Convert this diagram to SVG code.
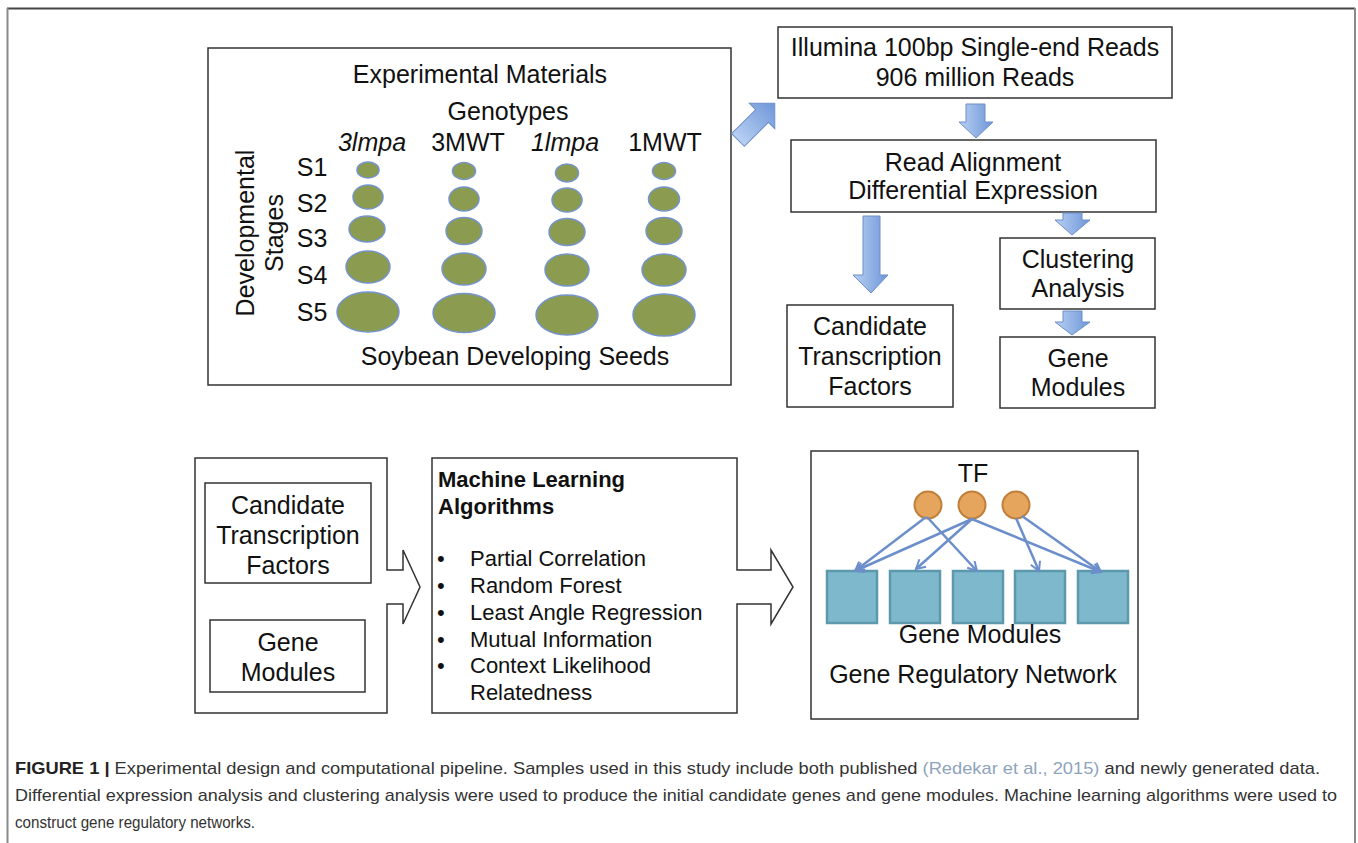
<svg xmlns="http://www.w3.org/2000/svg" width="1358" height="843" viewBox="0 0 1358 843">
<style>
text{font-family:"Liberation Sans",Arial,Helvetica,sans-serif;fill:#111;}
.t{font-size:25px;text-anchor:middle;}
.m{font-size:22px;}
.b{font-weight:bold;}
.box{fill:#fff;stroke:#333;stroke-width:1.5;}
.seed{fill:#8b9b50;stroke:#7494cb;stroke-width:1.5;}
.blk{fill:url(#bg);stroke:#6d8fc9;stroke-width:1;}
.tf{fill:#e6a55c;stroke:#bf7f3a;stroke-width:2;}
.gm{fill:#7db8cc;stroke:#5e98ac;stroke-width:2.5;}
.edge{stroke:#6c8fcb;stroke-width:2.5;fill:none;marker-end:url(#ah);}
.cap{font-size:17px;fill:#333;}
</style>
<defs>
<linearGradient id="bg" x1="0" y1="0" x2="1" y2="0">
<stop offset="0" stop-color="#b8d0f3"/>
<stop offset="1" stop-color="#6e96d8"/>
</linearGradient>
<marker id="ah" viewBox="0 0 12 12" refX="10" refY="6" markerWidth="12" markerHeight="12" markerUnits="userSpaceOnUse" orient="auto">
<path d="M1,1 L10,6 L1,11" fill="none" stroke="#6c8fcb" stroke-width="2"/>
</marker>
</defs>
<rect width="1358" height="843" fill="#fff"/>
<g id="frame">
<path d="M7,8.5 H1355" stroke="#444" stroke-width="2"/>
<path d="M7.5,8 V843 M1355,8 V843" stroke="#8a8a8a" stroke-width="2" fill="none"/>
</g>

<g id="materials">
<rect class="box" x="208" y="48" width="523" height="337"/>
<text class="t" x="480" y="83">Experimental Materials</text>
<text class="t" x="508" y="120">Genotypes</text>
<text class="t" x="372" y="151" font-style="italic">3lmpa</text>
<text class="t" x="468" y="151">3MWT</text>
<text class="t" x="565" y="151" font-style="italic">1lmpa</text>
<text class="t" x="665" y="151">1MWT</text>
<text class="t" x="312" y="176">S1</text>
<text class="t" x="312" y="212">S2</text>
<text class="t" x="312" y="247">S3</text>
<text class="t" x="312" y="284">S4</text>
<text class="t" x="312" y="321">S5</text>
<text class="t" transform="translate(254,233) rotate(-90)">Developmental</text>
<text class="t" transform="translate(283,233) rotate(-90)">Stages</text>
<ellipse class="seed" cx="368" cy="170" rx="11" ry="8"/>
<ellipse class="seed" cx="368" cy="197" rx="15" ry="12"/>
<ellipse class="seed" cx="367" cy="229" rx="18" ry="13"/>
<ellipse class="seed" cx="368" cy="267" rx="22" ry="16"/>
<ellipse class="seed" cx="368" cy="312" rx="31" ry="20"/>
<ellipse class="seed" cx="464" cy="171" rx="11.5" ry="8.5"/>
<ellipse class="seed" cx="464" cy="199" rx="15" ry="12"/>
<ellipse class="seed" cx="464" cy="231" rx="18" ry="13.5"/>
<ellipse class="seed" cx="464" cy="269" rx="22" ry="16"/>
<ellipse class="seed" cx="464" cy="313" rx="31" ry="19.5"/>
<ellipse class="seed" cx="567" cy="173" rx="11.5" ry="9"/>
<ellipse class="seed" cx="567" cy="200" rx="15" ry="12"/>
<ellipse class="seed" cx="567" cy="232" rx="18" ry="13.5"/>
<ellipse class="seed" cx="567" cy="270" rx="22" ry="16"/>
<ellipse class="seed" cx="567" cy="315" rx="31" ry="20"/>
<ellipse class="seed" cx="664" cy="171" rx="11.5" ry="8.5"/>
<ellipse class="seed" cx="664" cy="199" rx="15.5" ry="12"/>
<ellipse class="seed" cx="664" cy="231" rx="18" ry="13.5"/>
<ellipse class="seed" cx="664" cy="270" rx="22" ry="16"/>
<ellipse class="seed" cx="664" cy="315" rx="31" ry="21"/>
<text class="t" x="515" y="365">Soybean Developing Seeds</text>
</g>

<g id="illumina">
<rect class="box" x="778" y="27" width="394" height="71"/>
<text class="t" x="975" y="56">Illumina 100bp Single-end Reads</text>
<text class="t" x="975" y="86">906 million Reads</text>
</g>
<g id="alignment">
<rect class="box" x="791" y="140" width="365" height="72"/>
<text class="t" x="973" y="171">Read Alignment</text>
<text class="t" x="973" y="199">Differential Expression</text>
</g>
<g id="clustering">
<rect class="box" x="1000" y="238" width="155" height="71"/>
<text class="t" x="1078" y="268">Clustering</text>
<text class="t" x="1078" y="297">Analysis</text>
</g>
<g id="modules-top">
<rect class="box" x="1000" y="337" width="155" height="71"/>
<text class="t" x="1078" y="367">Gene</text>
<text class="t" x="1078" y="396">Modules</text>
</g>
<g id="tf-top">
<rect class="box" x="787" y="305" width="166" height="102"/>
<text class="t" x="870" y="335">Candidate</text>
<text class="t" x="870" y="365">Transcription</text>
<text class="t" x="870" y="395">Factors</text>
</g>

<g id="inputs">
<path class="box" d="M195,458 H387 V570 H403 V550 L420,587 L403,624 V604 H387 V713 H195 Z"/>
<rect class="box" x="205" y="483" width="166" height="100"/>
<text class="t" x="288" y="514">Candidate</text>
<text class="t" x="288" y="544">Transcription</text>
<text class="t" x="288" y="574">Factors</text>
<rect class="box" x="210" y="620" width="155" height="72"/>
<text class="t" x="288" y="651">Gene</text>
<text class="t" x="288" y="681">Modules</text>
</g>

<g id="algorithms">
<path class="box" d="M432,458 H737 V570 H771 V550 L793,587 L771,624 V604 H737 V713 H432 Z"/>
<text class="m b" x="438" y="487">Machine Learning</text>
<text class="m b" x="438" y="514">Algorithms</text>
<text class="m" x="437" y="566">•</text>
<text class="m" x="470" y="566">Partial Correlation</text>
<text class="m" x="437" y="593">•</text>
<text class="m" x="470" y="593">Random Forest</text>
<text class="m" x="437" y="620">•</text>
<text class="m" x="470" y="620">Least Angle Regression</text>
<text class="m" x="437" y="647">•</text>
<text class="m" x="470" y="647">Mutual Information</text>
<text class="m" x="437" y="673">•</text>
<text class="m" x="470" y="673">Context Likelihood</text>
<text class="m" x="470" y="700">Relatedness</text>
</g>

<g id="network">
<rect class="box" x="811" y="451" width="327" height="268"/>
<text class="t" x="973" y="482">TF</text>
<circle class="tf" cx="928" cy="505" r="13.5"/>
<circle class="tf" cx="972" cy="505" r="13.5"/>
<circle class="tf" cx="1016" cy="505" r="13.5"/>
<rect class="gm" x="827" y="571" width="50" height="52"/>
<rect class="gm" x="890" y="571" width="50" height="52"/>
<rect class="gm" x="953" y="571" width="50" height="52"/>
<rect class="gm" x="1015" y="571" width="50" height="52"/>
<rect class="gm" x="1078" y="571" width="50" height="52"/>
<text class="t" x="980" y="643">Gene Modules</text>
<text class="t" x="973" y="683">Gene Regulatory Network</text>
</g>

<g id="connectors">
<path class="blk" transform="translate(738,140) rotate(-45)" d="M0,-9 H34 V-18 L52,0 L34,18 V9 H0 Z"/>
<path class="blk" d="M966,104 H985 V122 H993 L976,138 L959,122 H966 Z"/>
<path class="blk" d="M863,216 H880 V275 H888 L871,293 L853,275 H863 Z"/>
<path class="blk" d="M1063,213 H1082 V220 H1090 L1072,235 L1055,220 H1063 Z"/>
<path class="blk" d="M1063,311 H1082 V322 H1090 L1072,335 L1055,322 H1063 Z"/>
<line class="edge" x1="926" y1="517" x2="855" y2="571"/>
<line class="edge" x1="927" y1="517" x2="977" y2="571"/>
<line class="edge" x1="972" y1="519" x2="855" y2="571"/>
<line class="edge" x1="972" y1="519" x2="916" y2="569"/>
<line class="edge" x1="972" y1="519" x2="1101" y2="572"/>
<line class="edge" x1="1016" y1="518" x2="1039" y2="571"/>
<line class="edge" x1="1022" y1="516" x2="1101" y2="572"/>
</g>

<g id="caption">
<text class="cap" x="15" y="774" textLength="1305" lengthAdjust="spacingAndGlyphs"><tspan font-weight="bold" fill="#222">FIGURE 1 |</tspan> Experimental design and computational pipeline. Samples used in this study include both published <tspan fill="#8fa3bd">(Redekar et al., 2015)</tspan> and newly generated data.</text>
<text class="cap" x="15" y="801" textLength="1322" lengthAdjust="spacingAndGlyphs">Differential expression analysis and clustering analysis were used to produce the initial candidate genes and gene modules. Machine learning algorithms were used to</text>
<text class="cap" x="15" y="828" textLength="240" lengthAdjust="spacingAndGlyphs">construct gene regulatory networks.</text>
</g>
</svg>
